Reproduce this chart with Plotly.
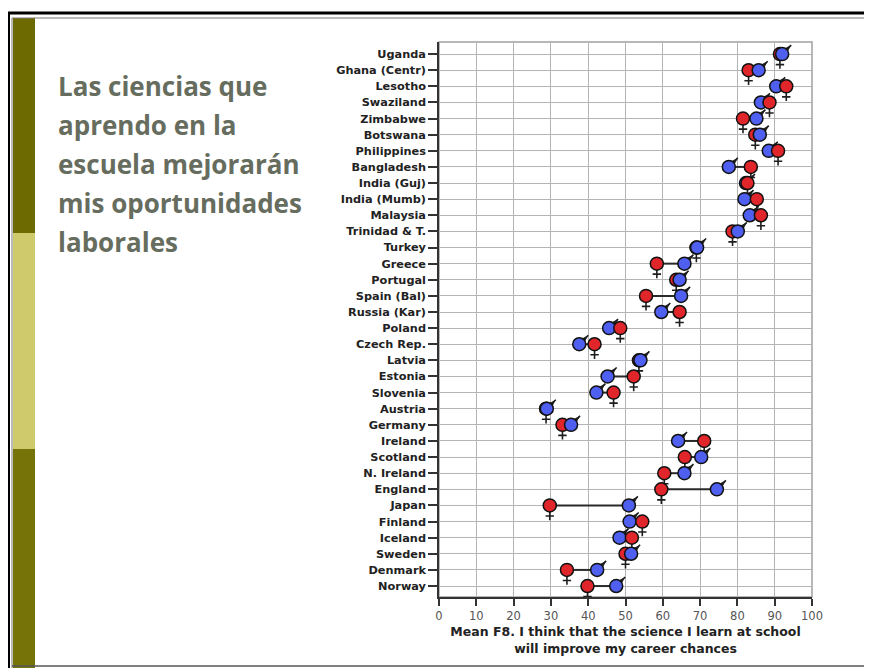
import plotly.graph_objects as go

countries = ["Uganda", "Ghana (Centr)", "Lesotho", "Swaziland", "Zimbabwe", "Botswana",
             "Philippines", "Bangladesh", "India (Guj)", "India (Mumb)", "Malaysia",
             "Trinidad & T.", "Turkey", "Greece", "Portugal", "Spain (Bal)", "Russia (Kar)",
             "Poland", "Czech Rep.", "Latvia", "Estonia", "Slovenia", "Austria", "Germany",
             "Ireland", "Scotland", "N. Ireland", "England", "Japan", "Finland", "Iceland",
             "Sweden", "Denmark", "Norway"]
female = [91.4, 83.0, 93.1, 88.6, 81.5, 84.8, 90.9, 83.6, 82.7, 85.2, 86.3,
          78.7, 69.0, 58.4, 63.6, 55.5, 64.5, 48.6, 41.7, 53.6, 52.2, 46.8, 28.7, 33.1,
          71.1, 65.9, 60.4, 59.6, 29.7, 54.5, 51.7, 50.0, 34.3, 39.8]
male = [92.0, 85.7, 90.4, 86.3, 85.1, 86.0, 88.4, 77.7, 82.3, 81.9, 83.3,
        80.1, 69.2, 65.8, 64.5, 64.9, 59.6, 45.6, 37.6, 54.0, 45.2, 42.2, 28.9, 35.4,
        64.1, 70.3, 65.8, 74.5, 50.9, 51.1, 48.4, 51.5, 42.4, 47.5]
x_ticks = [0, 10, 20, 30, 40, 50, 60, 70, 80, 90, 100]
title_lines = ["Las ciencias que", "aprendo en la", "escuela mejorarán",
               "mis oportunidades", "laborales"]
x_title = "Mean F8. I think that the science I learn at school<br>will improve my career chances"

RED = "#e0262a"
BLUE = "#4f5ff0"
INK = "#1e1e1e"

OFF = 8  # page body margin
W, H = 872 - OFF, 668 - OFF
ML, MR, MT, MB = 439 - OFF, 60, 42 - OFF, 71

def px(x):
    return (x - OFF - ML) / (W - ML - MR)

def py(y):
    return (H - MB - (y - OFF)) / (H - MT - MB)

idx = list(range(len(countries)))
# unit sizes in data space (x: ~3.73 px per unit, y: ~16.1 px per row)
XU = 1 / 3.73
YU = 1 / 16.1

fig = go.Figure()

# connecting lines
lx, ly = [], []
for i, f, m in zip(idx, female, male):
    lx += [f, m, None]
    ly += [i, i, None]
fig.add_trace(go.Scatter(x=lx, y=ly, mode="lines", line=dict(color="#2a2a2a", width=2),
                         hoverinfo="skip", showlegend=False))

# female cross (below circle) and male arrow (upper right)
fig.add_trace(go.Scatter(x=female, y=[i + 10.5 * YU for i in idx], mode="markers",
                         marker=dict(symbol="cross-thin", size=6, line=dict(color=INK, width=1.6)),
                         hoverinfo="skip", showlegend=False))
fig.add_trace(go.Scatter(x=[m + 6.5 * XU for m in male], y=[i - 6.5 * YU for i in idx],
                         mode="markers",
                         marker=dict(symbol="line-ne", size=5, line=dict(color=INK, width=1.6)),
                         hoverinfo="skip", showlegend=False))
fig.add_trace(go.Scatter(x=[m + 9.0 * XU for m in male], y=[i - 9.0 * YU for i in idx],
                         mode="markers",
                         marker=dict(symbol="arrow", angle=45, size=7, color=INK,
                                     line=dict(width=0)),
                         hoverinfo="skip", showlegend=False))

# circles: left-most drawn first, right-most on top
lo_x, lo_c, hi_x, hi_c = [], [], [], []
for f, m in zip(female, male):
    if f <= m:
        lo_x.append(f); lo_c.append(RED); hi_x.append(m); hi_c.append(BLUE)
    else:
        lo_x.append(m); lo_c.append(BLUE); hi_x.append(f); hi_c.append(RED)
for xs, cs in [(lo_x, lo_c), (hi_x, hi_c)]:
    fig.add_trace(go.Scatter(x=xs, y=idx, mode="markers",
                             marker=dict(size=13, color=cs, line=dict(color="#111111", width=1.5)),
                             showlegend=False))

# slide frame and side strip
shapes = [
    dict(type="rect", xref="paper", yref="paper", x0=px(13), x1=px(35), y0=py(18), y1=py(233),
         fillcolor="#6c6a00", line=dict(width=0), layer="below"),
    dict(type="rect", xref="paper", yref="paper", x0=px(13), x1=px(35), y0=py(233), y1=py(449),
         fillcolor="#cfcb6c", line=dict(width=0), layer="below"),
    dict(type="rect", xref="paper", yref="paper", x0=px(13), x1=px(35), y0=py(449), y1=py(668),
         fillcolor="#767408", line=dict(width=0), layer="below"),
    dict(type="line", xref="paper", yref="paper", x0=px(8.5), x1=px(8.5), y0=py(12), y1=py(668),
         line=dict(color="#000000", width=3)),
    dict(type="line", xref="paper", yref="paper", x0=px(8), x1=px(872), y0=py(13), y1=py(13),
         line=dict(color="#000000", width=3)),
    dict(type="line", xref="paper", yref="paper", x0=px(12), x1=px(872), y0=py(18), y1=py(18),
         line=dict(color="#777777", width=1)),
    dict(type="line", xref="paper", yref="paper", x0=px(12), x1=px(12), y0=py(18), y1=py(668),
         line=dict(color="#777777", width=1)),
    dict(type="line", xref="paper", yref="paper", x0=px(12), x1=px(872), y0=py(666), y1=py(666),
         line=dict(color="#555555", width=1.5)),
    dict(type="line", xref="paper", yref="paper", x0=px(866), x1=px(866), y0=py(18), y1=py(666),
         line=dict(color="#cccccc", width=1)),
    # plot frame (top / right)
    dict(type="rect", xref="paper", yref="paper", x0=0, x1=1, y0=0, y1=1,
         line=dict(color="#a0a0a0", width=1.5), layer="below"),
]

annotations = []
for i, t in enumerate(title_lines):
    annotations.append(dict(text=t, xref="paper", yref="paper", x=px(56), y=py(86 + 39 * i),
                            xanchor="left", yanchor="middle", showarrow=False,
                            font=dict(family="Open Sans", size=26, color="#666d5e", weight="bold")))

fig.update_layout(
    width=W, height=H,
    margin=dict(l=ML, r=MR, t=MT, b=MB),
    paper_bgcolor="white", plot_bgcolor="white",
    shapes=shapes, annotations=annotations,
    xaxis=dict(range=[0, 100], tickvals=x_ticks, showgrid=True, gridcolor="#b4b4b4", gridwidth=1,
               zeroline=False, showline=True, linecolor="#333333", linewidth=1.5,
               ticks="outside", ticklen=7, tickcolor="#333333", tickwidth=1.5,
               tickfont=dict(family="DejaVu Sans", size=11.5, color="#555555"),
               title=dict(text=x_title, standoff=6,
                          font=dict(family="DejaVu Sans", size=12.5, color="#222222", weight="bold"))),
    yaxis=dict(range=[33.68, -0.75], tickvals=idx, ticktext=countries,
               showgrid=True, gridcolor="#b4b4b4", gridwidth=1,
               zeroline=False, showline=True, linecolor="#333333", linewidth=1.5,
               ticks="outside", ticklen=9, tickcolor="#333333", tickwidth=1.5,
               tickfont=dict(family="DejaVu Sans", size=11.3, color="#222222", weight="bold")),
    showlegend=False,
)

fig.write_html("out.html")
